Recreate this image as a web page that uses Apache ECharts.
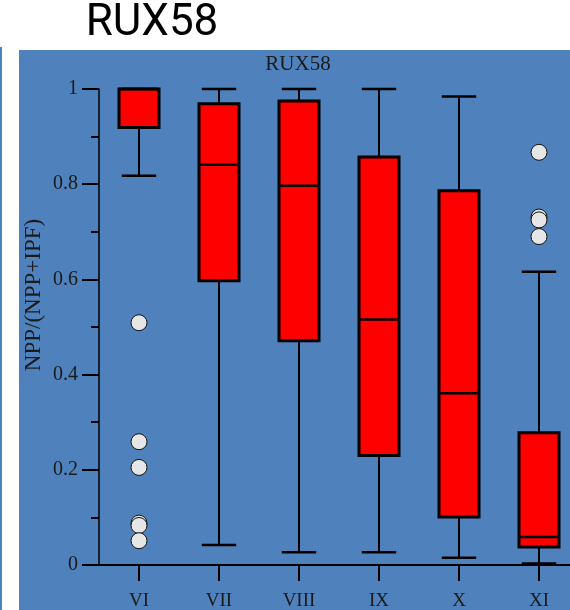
<!DOCTYPE html>
<html>
<head>
<meta charset="utf-8">
<script src="https://cdn.jsdelivr.net/npm/echarts@6/dist/echarts.min.js"></script>
<style>
html,body{margin:0;padding:0;background:#fff;}
#chart{width:570px;height:610px;}
</style>
</head>
<body>
<div id="chart"></div>
<script>
const categories = ['VI', 'VII', 'VIII', 'IX', 'X', 'XI'];
const whiskerLow  = [0.818, 0.042, 0.027, 0.027, 0.015, 0.003];
const quartile1   = [0.919, 0.597, 0.471, 0.230, 0.101, 0.038];
const medians     = [1.000, 0.841, 0.797, 0.516, 0.361, 0.059];
const quartile3   = [1.000, 0.969, 0.975, 0.857, 0.786, 0.278];
const whiskerHigh = [1.000, 1.000, 1.000, 1.000, 0.984, 0.616];
const outliersVI  = [0.509, 0.259, 0.205, 0.088, 0.083, 0.051];
const outliersXI  = [0.867, 0.731, 0.725, 0.690];
const yTicks = [0, 0.2, 0.4, 0.6, 0.8, 1];

const boxData = categories.map((c, i) => [i, whiskerLow[i], quartile1[i], medians[i], quartile3[i], whiskerHigh[i]]);
const outlierData = []
  .concat(outliersVI.map(v => [categories.indexOf('VI'), v]))
  .concat(outliersXI.map(v => [categories.indexOf('XI'), v]));

function renderBox(params, api) {
  const x = api.value(0);
  const lo = api.coord([x, api.value(1)]);
  const q1 = api.coord([x, api.value(2)]);
  const md = api.coord([x, api.value(3)]);
  const q3 = api.coord([x, api.value(4)]);
  const hi = api.coord([x, api.value(5)]);
  const band = api.size([1, 0])[0];
  const bw = band * 0.5;
  const cw = band * 0.43;
  const cx = lo[0];
  const ls = {stroke: '#000', lineWidth: 2};
  const cs = {stroke: '#000', lineWidth: 2.5};
  return {
    type: 'group',
    children: [
      {type: 'line', shape: {x1: cx, y1: lo[1], x2: cx, y2: q1[1]}, style: ls},
      {type: 'line', shape: {x1: cx, y1: q3[1], x2: cx, y2: hi[1]}, style: ls},
      {type: 'line', shape: {x1: cx - cw / 2, y1: lo[1], x2: cx + cw / 2, y2: lo[1]}, style: cs},
      {type: 'line', shape: {x1: cx - cw / 2, y1: hi[1], x2: cx + cw / 2, y2: hi[1]}, style: cs},
      {type: 'rect', shape: {x: cx - bw / 2, y: q3[1], width: bw, height: q1[1] - q3[1]},
        style: {fill: '#ff0000', stroke: '#000', lineWidth: 3}},
      {type: 'line', shape: {x1: cx - bw / 2, y1: md[1], x2: cx + bw / 2, y2: md[1]}, style: cs}
    ]
  };
}

const chart = echarts.init(document.getElementById('chart'), null, {renderer: 'canvas'});
chart.setOption({
  backgroundColor: '#ffffff',
  animation: false,
  graphic: [
    {type: 'rect', z: -10, shape: {x: 19, y: 50, width: 551, height: 560}, style: {fill: '#4f81bd'}},
    {type: 'rect', z: -10, shape: {x: 0, y: 47, width: 2, height: 563}, style: {fill: '#4f81bd'}},
    {type: 'text', x: 152, y: 24, style: {text: 'RUX58', font: '44px Roboto', fill: '#000', align: 'center', verticalAlign: 'middle'}},
    {type: 'text', x: 298, y: 64, style: {text: 'RUX58', font: '21px "Liberation Serif"', fill: '#1a1a1a', align: 'center', verticalAlign: 'middle'}},
    {type: 'text', x: 34, y: 295, rotation: Math.PI / 2,
      style: {text: 'NPP/(NPP+IPF)', font: '23px "Liberation Serif"', fill: '#1a1a1a', align: 'center', verticalAlign: 'middle'}}
  ],
  grid: {left: 99, right: -9, top: 89, bottom: 45, containLabel: false, outerBoundsMode: 'none'},
  xAxis: {
    type: 'category',
    data: categories,
    boundaryGap: true,
    axisLine: {show: true, lineStyle: {color: '#000', width: 2}},
    axisTick: {show: true, alignWithLabel: true, length: 16, lineStyle: {color: '#000', width: 2}},
    axisLabel: {margin: 27, fontFamily: 'Liberation Serif', fontSize: 19, color: '#1a1a1a'},
    splitLine: {show: false}
  },
  yAxis: {
    type: 'value',
    min: 0, max: 1, interval: 0.2,
    axisLine: {show: true, lineStyle: {color: '#000', width: 1.5}},
    axisTick: {show: true, inside: false, length: 17, lineStyle: {color: '#000', width: 2}},
    minorTick: {show: true, splitNumber: 2, length: 8, lineStyle: {color: '#000', width: 2}},
    axisLabel: {margin: 21, fontFamily: 'Liberation Serif', fontSize: 20, color: '#1a1a1a',
      formatter: v => { const t = yTicks.find(k => Math.abs(k - v) < 1e-9); return String(t !== undefined ? t : v); }},
    splitLine: {show: false},
    minorSplitLine: {show: false}
  },
  series: [
    {
      type: 'custom',
      renderItem: renderBox,
      data: boxData,
      encode: {x: 0, y: [1, 2, 3, 4, 5]},
      clip: false,
      z: 2
    },
    {
      type: 'scatter',
      data: outlierData,
      symbol: 'circle',
      symbolSize: 16,
      itemStyle: {color: '#e6e6e6', borderColor: '#111', borderWidth: 1, opacity: 1},
      z: 3
    }
  ]
});
</script>
</body>
</html>
